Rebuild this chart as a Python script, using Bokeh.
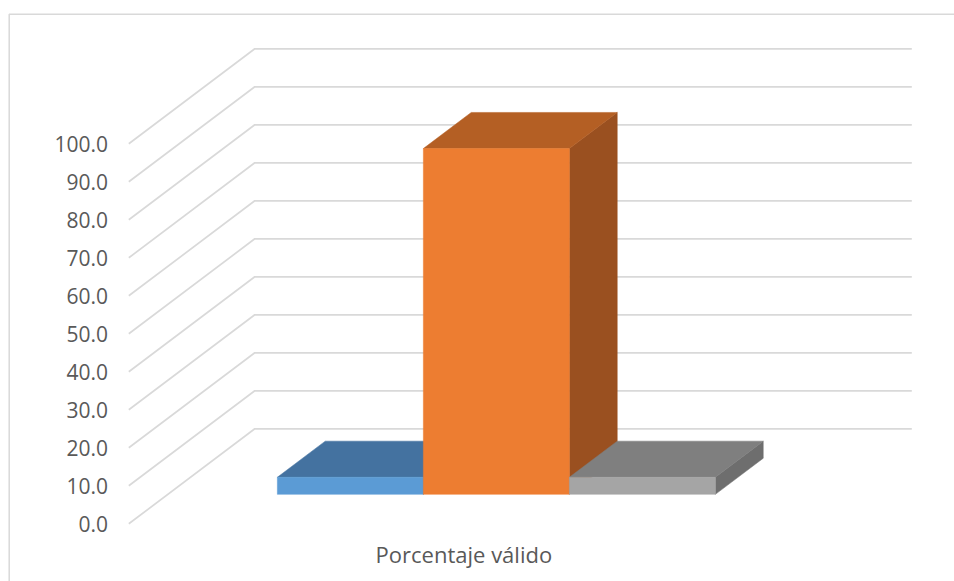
from bokeh.plotting import figure
from bokeh.models import Range1d, LinearAxis, FixedTicker, NumeralTickFormatter
from bokeh.embed import file_html
from bokeh.resources import INLINE

# ---------------- data ----------------
category = "Porcentaje válido"
series_names = ["Serie 1", "Serie 2", "Serie 3"]
series_values = [4.5, 91.0, 4.5]
front_colors = ["#5b9bd5", "#ed7d31", "#a5a5a5"]
top_colors = ["#4472a0", "#b45f24", "#7f7f7f"]
side_colors = ["#3e6a93", "#9a5020", "#6e6e6e"]
y_ticks = [0, 10, 20, 30, 40, 50, 60, 70, 80, 90, 100]

# ---------------- geometry of the oblique projection ----------------
W, H = 954, 581
PX_X = 657.0          # px per category unit (front plane width)
X0 = 128.3           # px of category x=0 at front
PX_V = 3.8           # px per value unit
V0 = 523.3           # px (from top) of value 0 at front
DEPTH_DX = 126.0 / PX_X   # x shift for full depth
DEPTH_DY = 95.0 / PX_V    # value shift for full depth
D0, D1 = 0.31, 0.69       # bar depth extent
GAP = 1.0 / 6.0
BW = 2.0 / 9.0

x_range = Range1d(-X0 / PX_X, (W - X0) / PX_X)
y_range = Range1d(-(H - V0) / PX_V, V0 / PX_V)

p = figure(width=W, height=H, x_range=x_range, y_range=y_range,
           x_axis_type=None, y_axis_type=None,
           output_backend="svg", toolbar_location=None,
           min_border=0, min_border_left=0, min_border_right=0,
           min_border_top=0, min_border_bottom=0)
p.outline_line_color = None
p.grid.visible = False
p.background_fill_color = "white"
p.border_fill_color = "white"


def proj(x, v, d):
    return x + d * DEPTH_DX, v + d * DEPTH_DY


def px_to_x(px):
    return (px - X0) / PX_X


def px_to_y(py):
    return (V0 - py) / PX_V


# chart-area border (top and left visible)
bx, by = px_to_x(8.7), px_to_y(13.7)
p.line([bx, bx, x_range.end + 1], [y_range.start - 1, by, by],
       line_color="#d9d9d9", line_width=1.5)

# gridlines: side wall diagonal + back wall horizontal
gx, gy = [], []
for t in y_ticks:
    a = proj(0, t, 0)
    b = proj(0, t, 1)
    c = proj(1, t, 1)
    gx.append([a[0], b[0], c[0]])
    gy.append([a[1], b[1], c[1]])
p.multi_line(gx, gy, line_color="#d9d9d9", line_width=1.7)

# bars (painter's order: left to right)
for i, v in enumerate(series_values):
    L = GAP + i * BW
    R = L + BW
    # right side
    pts = [proj(R, 0, D0), proj(R, v, D0), proj(R, v, D1), proj(R, 0, D1)]
    p.patch([q[0] for q in pts], [q[1] for q in pts], fill_color=side_colors[i],
            line_color=side_colors[i], line_width=0.5)
    # top
    pts = [proj(L, v, D0), proj(R, v, D0), proj(R, v, D1), proj(L, v, D1)]
    p.patch([q[0] for q in pts], [q[1] for q in pts], fill_color=top_colors[i],
            line_color=top_colors[i], line_width=0.5)
    # front
    pts = [proj(L, 0, D0), proj(R, 0, D0), proj(R, v, D0), proj(L, v, D0)]
    p.patch([q[0] for q in pts], [q[1] for q in pts], fill_color=front_colors[i],
            line_color=front_colors[i], line_width=0.5)

# y axis (front plane)
yax = LinearAxis(fixed_location=px_to_x(107.5),
                 ticker=FixedTicker(ticks=y_ticks),
                 formatter=NumeralTickFormatter(format="0.0"))
yax.axis_line_color = None
yax.major_tick_line_color = None
yax.minor_tick_line_color = None
yax.major_tick_out = 0
yax.major_tick_in = 0
yax.major_label_standoff = 0
yax.major_label_text_font = "Open Sans"
yax.major_label_text_font_size = "21px"
yax.major_label_text_color = "#595959"
p.add_layout(yax, "left")

# category axis
cat_tick = 0.51
xax = LinearAxis(fixed_location=px_to_y(538),
                 ticker=FixedTicker(ticks=[cat_tick]),
                 major_label_overrides={cat_tick: category})
xax.axis_line_color = None
xax.major_tick_line_color = None
xax.minor_tick_line_color = None
xax.major_tick_out = 0
xax.major_tick_in = 0
xax.major_label_standoff = 0
xax.major_label_text_font = "Open Sans"
xax.major_label_text_font_size = "22px"
xax.major_label_text_color = "#595959"
p.add_layout(xax, "below")

open("out.html", "w").write(file_html(p, INLINE))
